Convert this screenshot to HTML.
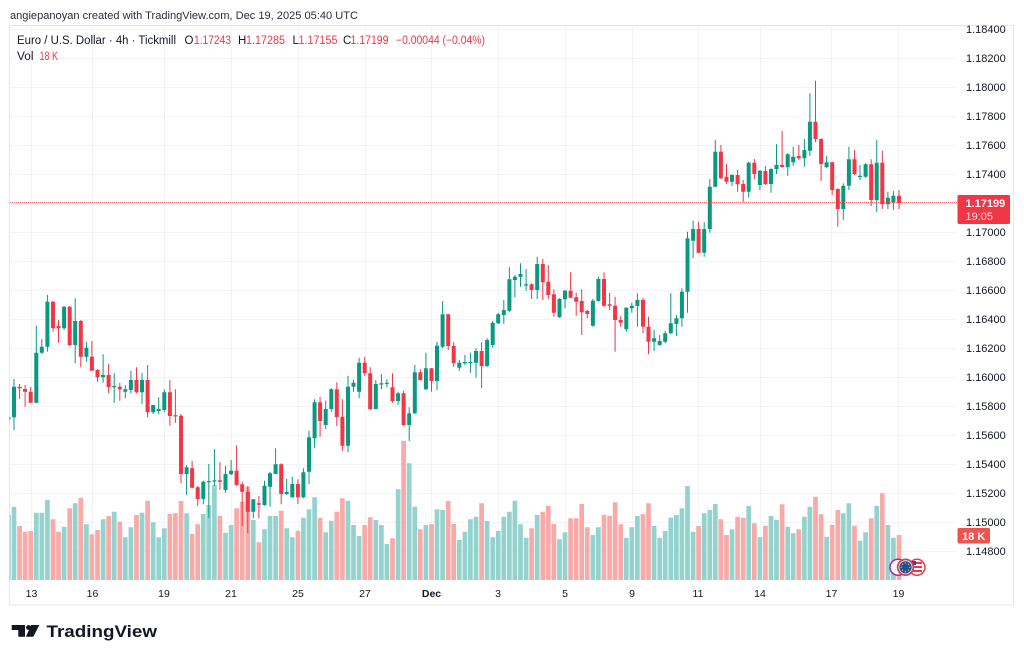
<!DOCTYPE html>
<html><head><meta charset="utf-8"><style>
html,body{margin:0;padding:0;background:#fff;}
svg{display:block;}
text{font-family:"Liberation Sans",sans-serif;}
</style></head><body>
<svg width="1024" height="661" viewBox="0 0 1024 661" xmlns="http://www.w3.org/2000/svg">
<defs><clipPath id="pc"><rect x="9.5" y="25.5" width="947.5" height="554.5"/></clipPath></defs>
<rect width="1024" height="661" fill="#fff"/>
<text x="10" y="19" font-size="11" fill="#2a2e39" textLength="348" lengthAdjust="spacingAndGlyphs">angiepanoyan created with TradingView.com, Dec 19, 2025 05:40 UTC</text>
<!-- frame -->
<rect x="9.5" y="25.5" width="1004" height="579.5" fill="none" stroke="#e6e8ee" stroke-width="1"/>
<!-- grid -->
<g stroke="#f2f3f6" stroke-width="1">
<path d="M10 29.5H957M10 58.5H957M10 87.5H957M10 116.5H957M10 145.5H957M10 174.5H957M10 203.5H957M10 232.5H957M10 261.5H957M10 290.5H957M10 319.5H957M10 348.5H957M10 377.5H957M10 406.5H957M10 435.5H957M10 464.5H957M10 493.5H957M10 522.5H957M10 551.5H957"/>
<path d="M31.5 26V580M92.5 26V580M164.5 26V580M231.5 26V580M298.5 26V580M365.5 26V580M431.5 26V580M498.5 26V580M565.5 26V580M632.5 26V580M698.5 26V580M760.5 26V580M831.5 26V580M898.5 26V580"/>
</g>
<g clip-path="url(#pc)">
<!-- volume -->
<path fill="none" stroke="#94d3cd" stroke-width="4.7" d="M8.4 515V580M14 506.7V580M36.3 512.7V580M41.8 512.7V580M47.4 500V580M64.1 526.7V580M75.2 503.3V580M86.4 524.3V580M103.1 519.3V580M114.2 511.7V580M125.3 537.3V580M130.9 527.3V580M142 512.7V580M153.2 522.3V580M158.7 537.3V580M164.3 528.3V580M186.6 513.3V580M203.3 514V580M208.8 505V580M214.4 485V580M225.5 532.7V580M231.1 525V580M253.3 520V580M264.5 529.3V580M270 516V580M275.6 516V580M286.7 528.3V580M292.3 537.3V580M303.4 517.7V580M309 509.3V580M314.6 497.3V580M325.7 532.3V580M331.3 520.7V580M348 500.7V580M353.5 525V580M359.1 536V580M375.8 520V580M381.4 525V580M386.9 544V580M398.1 489.3V580M409.2 463.3V580M414.8 506.7V580M425.9 525V580M437 509.3V580M442.6 510V580M459.3 540V580M464.9 531.7V580M470.4 519.3V580M476 516.7V580M487.1 521V580M492.7 537.3V580M498.2 531V580M503.8 516.7V580M509.4 511.7V580M514.9 500.7V580M520.5 524.3V580M526.1 537.7V580M537.2 515V580M559.5 539.3V580M565 532.3V580M592.9 535V580M598.4 527.3V580M626.3 537.7V580M631.8 527.3V580M637.4 516V580M654.1 526V580M659.7 537.7V580M665.2 531V580M670.8 517.7V580M676.4 515V580M681.9 508.3V580M687.5 486V580M693.1 531.7V580M704.2 513.3V580M709.8 510V580M715.3 504V580M732 529.3V580M748.7 506V580M759.9 537.3V580M771 516V580M776.5 520V580M787.7 526.7V580M793.2 533.3V580M804.4 516.7V580M809.9 506.7V580M826.6 536.7V580M843.3 513.3V580M848.9 503.3V580M860 540.7V580M865.6 532.3V580M876.7 505.7V580M887.9 525V580M893.4 537.7V580"/>
<path fill="none" stroke="#f7aaa8" stroke-width="4.7" d="M19.6 526V580M25.1 531.7V580M30.7 531V580M53 519.3V580M58.5 531.7V580M69.7 508.3V580M80.8 497.7V580M91.9 534.3V580M97.5 530V580M108.6 516V580M119.8 521.7V580M136.5 515V580M147.6 500.7V580M169.9 514V580M175.4 513.3V580M181 501V580M192.1 534V580M197.7 524.3V580M219.9 515.7V580M236.6 508.3V580M242.2 501.7V580M247.8 486.7V580M258.9 542.3V580M281.2 510.7V580M297.9 530.7V580M320.1 517.7V580M336.8 511.7V580M342.4 498.3V580M364.7 525V580M370.2 517.3V580M392.5 538.3V580M403.6 440.7V580M420.3 529.3V580M431.5 524.3V580M448.2 501V580M453.7 524V580M481.6 503.3V580M531.6 528.3V580M542.8 511.7V580M548.3 505.7V580M553.9 524V580M570.6 518.3V580M576.2 518.3V580M581.7 504V580M587.3 527.3V580M604 515V580M609.6 515.7V580M615.1 502.3V580M620.7 524.3V580M643 514.3V580M648.5 503.3V580M698.6 526V580M720.9 519.3V580M726.5 535V580M737.6 516.7V580M743.2 517.7V580M754.3 523.3V580M765.4 525.7V580M782.1 504.3V580M798.8 529.3V580M815.5 496.7V580M821.1 514.3V580M832.2 525V580M837.8 510V580M854.5 525.7V580M871.2 518.3V580M882.3 493.3V580M899 535V580"/>
<!-- wicks -->
<path fill="none" stroke="#089981" stroke-width="1" d="M8.4 415V421M14 379V430M36.3 325.7V403.3M41.8 339.3V354M47.4 295V351.7M64.1 306V330M75.2 298.3V363.3M86.4 341.7V361.7M103.1 354.3V382.7M114.2 373.3V402.7M125.3 385V398.3M130.9 370.7V393.3M142 372.7V404M153.2 405V414M158.7 397.3V414.3M164.3 389.3V411.7M186.6 465V495M203.3 480.7V504.3M208.8 464V517.7M214.4 449V485.7M225.5 466V492.7M231.1 460V475M253.3 499.3V518.3M264.5 480.7V505.7M270 471.7V506.7M275.6 448.3V474.3M286.7 479V495M292.3 476.7V497.7M303.4 468.3V498.3M309 430.7V484.3M314.6 399.3V448.3M325.7 400.7V429.3M331.3 388.3V411.7M348 375.7V452.3M353.5 380V391.7M359.1 357.7V398.3M375.8 380V409.3M381.4 374V389.3M386.9 379.3V387.3M398.1 391.7V405M409.2 407.3V441M414.8 365V414M425.9 352.7V390M437 341.7V390M442.6 301V348.3M459.3 360V371M464.9 355V365M470.4 352.7V372.7M476 348.3V377.7M487.1 338.3V367.3M492.7 321V347.7M498.2 312.7V324M503.8 300V324M509.4 267.3V311.7M514.9 275V297.3M520.5 263.3V286.7M526.1 269V290.7M537.2 256.7V299M559.5 298.3V317.7M565 290V308.3M592.9 299V326.7M598.4 276.7V301.7M626.3 307.3V331.7M631.8 302.7V312.7M637.4 293.3V326.7M654.1 330V351M659.7 335V345.7M665.2 331V343.3M670.8 293.3V334M676.4 315V336M681.9 288.3V326.7M687.5 231.7V312.7M693.1 220.7V258.3M704.2 222.3V256.7M709.8 179.3V232.7M715.3 140V187.3M732 174.3V186M748.7 161.7V197.7M759.9 170V190M771 168.3V192.7M776.5 144.3V174M787.7 153.3V175.7M793.2 146.7V165.7M804.4 139V166.7M809.9 93.3V156M826.6 155.7V167.7M843.3 183.3V220M848.9 146.7V190M860 165V180M865.6 163.3V177.7M876.7 140V212.3M887.9 191.7V209M893.4 191V210"/>
<path fill="none" stroke="#f23645" stroke-width="1" d="M19.6 384V399M25.1 385V406.7M30.7 386.7V403.3M53 301V331.7M58.5 320V342.7M69.7 306V346M80.8 320V367.3M91.9 341V370.7M97.5 369.3V381.7M108.6 364V393.3M119.8 382.7V400.7M136.5 367.3V393.3M147.6 365V417.3M169.9 380V425.7M175.4 389.3V422.7M181 414V483.3M192.1 460.7V488.3M197.7 486V505.7M219.9 462.3V490M236.6 445.3V485.7M242.2 481.7V526M247.8 486V533.3M258.9 496V518.3M281.2 463.3V504.3M297.9 479.3V504M320.1 396.7V436.7M336.8 382.3V426M342.4 399.3V451M364.7 356.7V375.7M370.2 367.3V410M392.5 373.3V402.7M403.6 390.7V425.7M420.3 369.3V380.7M431.5 368.3V391.7M448.2 314.3V350M453.7 341.7V366.7M481.6 342.3V388.3M531.6 283.3V299M542.8 259V300M548.3 265V299.3M553.9 289.3V316.7M570.6 272.3V298.3M576.2 292.7V315.7M581.7 289.3V335M587.3 310V318.3M604 272.3V306.7M609.6 292.7V310M615.1 296.7V351.7M620.7 315.7V326.7M643 297.7V333.3M648.5 316.7V354.3M698.6 221.7V253.3M720.9 145V179M726.5 164V184M737.6 170V191.7M743.2 180V202.3M754.3 159V179.3M765.4 166V185M782.1 131V167.7M798.8 145V160M815.5 80.7V142.3M821.1 138.3V181M832.2 161.7V195M837.8 188.3V226.7M854.5 150V175M871.2 159.3V206M882.3 150.7V209M899 190V209"/>
<!-- bodies -->
<path fill="none" stroke="#089981" stroke-width="4" d="M8.4 416.7V420M14 386.7V417.3M36.3 352.7V402.7M41.8 346.7V352.7M47.4 301.7V346.7M64.1 306.7V328.3M75.2 321V345M86.4 347.7V356.7M103.1 375V377.3M114.2 386V387.2M125.3 389.3V391.7M130.9 380V390M142 380V392.3M153.2 405V412.3M158.7 409V411M164.3 392.3V410M186.6 467.3V474M203.3 481.7V499M208.8 481V482.2M214.4 480.3V481.5M225.5 474V490M231.1 470.7V474.3M253.3 499.3V511.7M264.5 485.7V505M270 473.3V486.7M275.6 464.3V474M286.7 492V494M292.3 484V497.3M303.4 472.3V497.3M309 437.3V471.7M314.6 402.3V438.3M325.7 409V425M331.3 389.3V409M348 386.7V445.7M353.5 382.7V386.7M359.1 362.7V391.7M375.8 384V409M381.4 383.3V384.5M386.9 382.7V383.9M398.1 393.3V401M409.2 413.3V425M414.8 372.3V413.3M425.9 368.3V389.3M437 345.7V381M442.6 314.3V346.7M459.3 362.7V367.7M464.9 362V363.3M470.4 362V363.2M476 351V362.7M487.1 340V366M492.7 322.7V345M498.2 314.3V323.3M503.8 310V315M509.4 279.3V310.7M514.9 276.7V280M520.5 274V276.7M526.1 284.3V285.5M537.2 264V290M559.5 299V317.3M565 290.7V299.3M592.9 300.7V325.7M598.4 279V301M626.3 307.7V329.3M631.8 305.7V308.3M637.4 300V306M654.1 338.3V341.7M659.7 341V345M665.2 333.3V341.7M670.8 323.3V333.3M676.4 318.3V324M681.9 291.7V318.3M687.5 238.3V291.7M693.1 229V240.7M704.2 229V252.7M709.8 186.7V229M715.3 151.7V186.7M732 175V181.7M748.7 162.7V191.7M759.9 170.7V185M771 169V184M776.5 165V169M787.7 154.3V167.3M793.2 156.7V162.3M804.4 150V158.3M809.9 121.7V150.7M826.6 162.3V167.3M843.3 185.7V209M848.9 159.3V185.7M860 175.7V177M865.6 164.3V176.7M876.7 162.7V200M887.9 197.7V204.3M893.4 195.7V202.3"/>
<path fill="none" stroke="#f23645" stroke-width="4" d="M19.6 386.7V388.3M25.1 389V391.7M30.7 391.7V402.7M53 301.7V328.3M58.5 326V328.3M69.7 306.7V345M80.8 321V356.7M91.9 356.7V370.7M97.5 370V377.3M108.6 375V387M119.8 386.7V389.3M136.5 380V392.3M147.6 380V412.3M169.9 392.3V416M175.4 415.3V416.5M181 415.7V474M192.1 468.3V487.7M197.7 487.3V499M219.9 480.3V481.7M236.6 470.7V485M242.2 484.3V491.7M247.8 491.7V511.7M258.9 503.3V504.7M281.2 464.3V494M297.9 484V497.3M320.1 402.3V421M336.8 389.3V417.3M342.4 416.7V445.7M364.7 362.7V373.3M370.2 373.3V409.3M392.5 387.3V401M403.6 393.3V425M420.3 372.3V380M431.5 368.3V381M448.2 314.3V346M453.7 346V363.3M481.6 351V366M531.6 284.3V290M542.8 264V282.3M548.3 281.7V295M553.9 294.3V312.7M570.6 290.7V297.7M576.2 297.3V301.7M581.7 301V312.3M587.3 311V314M604 279V305.7M609.6 304.3V305.7M615.1 305.7V320M620.7 320V322.7M643 300V326.7M648.5 326.7V341.7M698.6 229V252.7M720.9 151.7V178.3M726.5 176.7V181.7M737.6 175V184.3M743.2 184V191.7M754.3 162.7V174M765.4 171V184M782.1 165V167M798.8 156V158.3M815.5 121.7V139M821.1 139V164M832.2 162.3V190M837.8 189V209M854.5 159.3V174M871.2 164.3V200M882.3 162.7V204.3M899 195.7V202.7"/>
<!-- price line -->
<path d="M10 202.5H957" stroke="#f23645" stroke-width="1" stroke-dasharray="1 1" opacity="0.8"/>
</g>
<!-- icons -->
<circle cx="898" cy="567.3" r="8" fill="#fff" stroke="#9c27b0" stroke-width="1.5"/>
<circle cx="917" cy="567.3" r="8" fill="#fff" stroke="#f23645" stroke-width="1.5"/>
<rect x="912" y="562" width="10" height="2" fill="#f23645"/>
<rect x="912" y="566" width="10" height="2" fill="#f23645"/>
<rect x="912" y="570" width="10" height="2" fill="#f23645"/>
<rect x="911" y="561" width="5" height="4" fill="#1b4fa0"/>
<circle cx="905.5" cy="567.3" r="8" fill="#1b4fa0" stroke="#f23645" stroke-width="1.5"/>
<circle cx="905.5" cy="567.3" r="6.6" fill="#1b4fa0" stroke="#fff" stroke-width="0.8"/>
<g fill="#ffcc00"><circle cx="905.5" cy="563" r="0.7"/><circle cx="905.5" cy="571.6" r="0.7"/><circle cx="901.2" cy="567.3" r="0.7"/><circle cx="909.8" cy="567.3" r="0.7"/><circle cx="902.5" cy="564.3" r="0.7"/><circle cx="908.5" cy="564.3" r="0.7"/><circle cx="902.5" cy="570.3" r="0.7"/><circle cx="908.5" cy="570.3" r="0.7"/></g>
<!-- legend -->
<g font-size="11.5">
<text x="17" y="44" fill="#131722" textLength="159" lengthAdjust="spacingAndGlyphs">Euro / U.S. Dollar · 4h · Tickmill</text>
<text x="184.5" y="44" fill="#131722">O</text>
<text x="194" y="44" fill="#f23645" textLength="37" lengthAdjust="spacingAndGlyphs">1.17243</text>
<text x="238" y="44" fill="#131722">H</text>
<text x="246" y="44" fill="#f23645" textLength="39" lengthAdjust="spacingAndGlyphs">1.17285</text>
<text x="292.5" y="44" fill="#131722">L</text>
<text x="298.5" y="44" fill="#f23645" textLength="39" lengthAdjust="spacingAndGlyphs">1.17155</text>
<text x="343" y="44" fill="#131722">C</text>
<text x="350.5" y="44" fill="#f23645" textLength="38" lengthAdjust="spacingAndGlyphs">1.17199</text>
<text x="396" y="44" fill="#f23645" textLength="89" lengthAdjust="spacingAndGlyphs">−0.00044 (−0.04%)</text>
<text x="17" y="60" fill="#131722" textLength="16.5" lengthAdjust="spacingAndGlyphs">Vol</text>
<text x="39.5" y="60" fill="#f23645" textLength="18.5" lengthAdjust="spacingAndGlyphs">18 K</text>
</g>
<!-- price axis -->
<g font-size="11" fill="#131722">
<text x="966" y="33">1.18400</text>
<text x="966" y="62">1.18200</text>
<text x="966" y="91">1.18000</text>
<text x="966" y="120">1.17800</text>
<text x="966" y="149">1.17600</text>
<text x="966" y="178">1.17400</text>
<text x="966" y="236">1.17000</text>
<text x="966" y="265">1.16800</text>
<text x="966" y="294">1.16600</text>
<text x="966" y="323">1.16400</text>
<text x="966" y="352">1.16200</text>
<text x="966" y="381">1.16000</text>
<text x="966" y="410">1.15800</text>
<text x="966" y="439">1.15600</text>
<text x="966" y="468">1.15400</text>
<text x="966" y="497">1.15200</text>
<text x="966" y="526">1.15000</text>
<text x="966" y="555">1.14800</text>
</g>
<rect x="957.5" y="195" width="52.5" height="29" rx="1.5" fill="#f23645"/>
<text x="965.5" y="207" font-size="11" fill="#fff" font-weight="bold">1.17199</text>
<text x="965.5" y="220" font-size="11" fill="#fff" fill-opacity="0.85">19:05</text>
<rect x="957.5" y="528" width="32.5" height="15.5" rx="1.5" fill="#ef5350"/>
<text x="973.7" y="540" font-size="11" fill="#fff" text-anchor="middle" font-weight="bold">18 K</text>
<!-- time axis -->
<g font-size="10.5" fill="#131722" text-anchor="middle">
<text x="31.5" y="597">13</text>
<text x="92.5" y="597">16</text>
<text x="164" y="597">19</text>
<text x="231" y="597">21</text>
<text x="298" y="597">25</text>
<text x="365" y="597">27</text>
<text x="431.5" y="597" font-weight="bold">Dec</text>
<text x="498" y="597">3</text>
<text x="565" y="597">5</text>
<text x="632" y="597">9</text>
<text x="698" y="597">11</text>
<text x="760" y="597">14</text>
<text x="831.5" y="597">17</text>
<text x="898.5" y="597">19</text>
</g>
<!-- logo -->
<g fill="#131722">
<path d="M11.7 625H25V636.7H18.3V630H11.7Z"/>
<circle cx="28.5" cy="627.5" r="2.4"/>
<path d="M31 625H39.3L33.3 636.7H26Z"/>
</g>
<text x="46.5" y="637" font-size="17" font-weight="bold" fill="#131722" textLength="110.5" lengthAdjust="spacingAndGlyphs">TradingView</text>
</svg>
</body></html>
